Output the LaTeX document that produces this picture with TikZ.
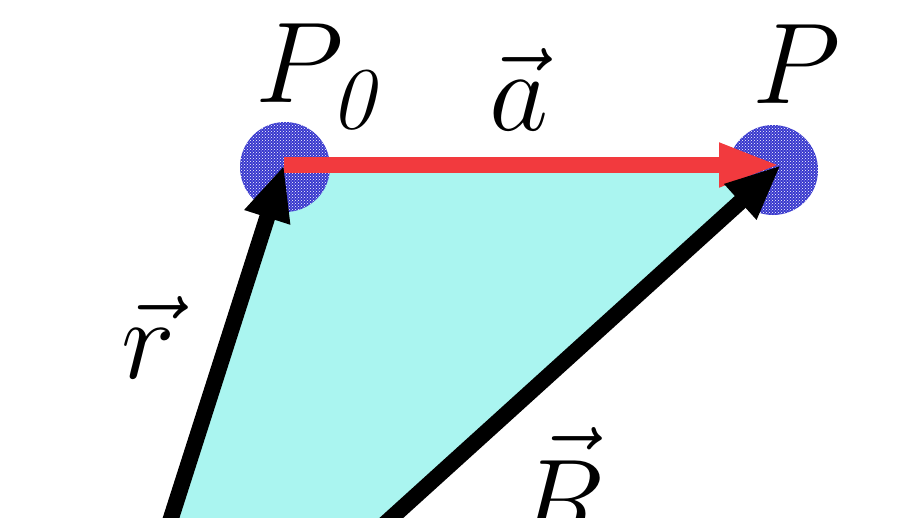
\RequirePackage{fix-cm}
\documentclass[tikz,border=0pt]{standalone}
\usetikzlibrary{arrows.meta,patterns}
\definecolor{tricyan}{RGB}{170,245,240}
\definecolor{arrred}{RGB}{242,58,62}
\definecolor{dotblue}{RGB}{55,55,205}
\tikzset{
  big/.style={font=\fontsize{115}{120}\selectfont, inner sep=0pt, anchor=base west},
  sub/.style={font=\fontsize{88}{95}\selectfont, inner sep=0pt, anchor=base west},
  diskbase/.style={circle, minimum size=90pt, inner sep=0pt, fill=dotblue},
  pointdisk/.style={circle, minimum size=90pt, inner sep=0pt, pattern=crosshatch dots, pattern color=white},
  blackvec/.style={line width=16pt, -{Triangle[length=55pt,width=44pt]}},
  redvec/.style={arrred, line width=16pt, -{Triangle[length=62pt,width=40pt]}}
}
\begin{document}
\begin{tikzpicture}[x=1pt,y=-1pt]
\useasboundingbox (0,0) rectangle (918,517);
\clip (0,0) rectangle (918,517);
\coordinate (P0) at (284,165);
\coordinate (P) at (781,165);
\coordinate (rs) at (164,540);
\coordinate (Rs) at (367,540);
\fill[tricyan] (P0) -- (P) -- (Rs) -- (rs) -- cycle;
\node[diskbase] (b0) at (285,167) {};
\node[diskbase] (b1) at (773,170) {};
\node[pointdisk] (d0) at (285,167) {};
\node[pointdisk] (d1) at (773,170) {};
\draw[redvec] (P0) -- (P);
\draw[blackvec] (rs) -- (P0);
\draw[blackvec] (Rs) -- (P);
\node[big] (lP0) at (255,102) {$P$};
\node[sub] (l0) at (330,128) {\textit{0}};
\node[big] (lP) at (752,103) {$P$};
\node[big] (la) at (489,130) {$\vec{a}$};
\node[big] (lr) at (121,378) {$\vec{r}$};
\node[big] (lR) at (516,539) {$\vec{R}$};
\end{tikzpicture}
\end{document}
